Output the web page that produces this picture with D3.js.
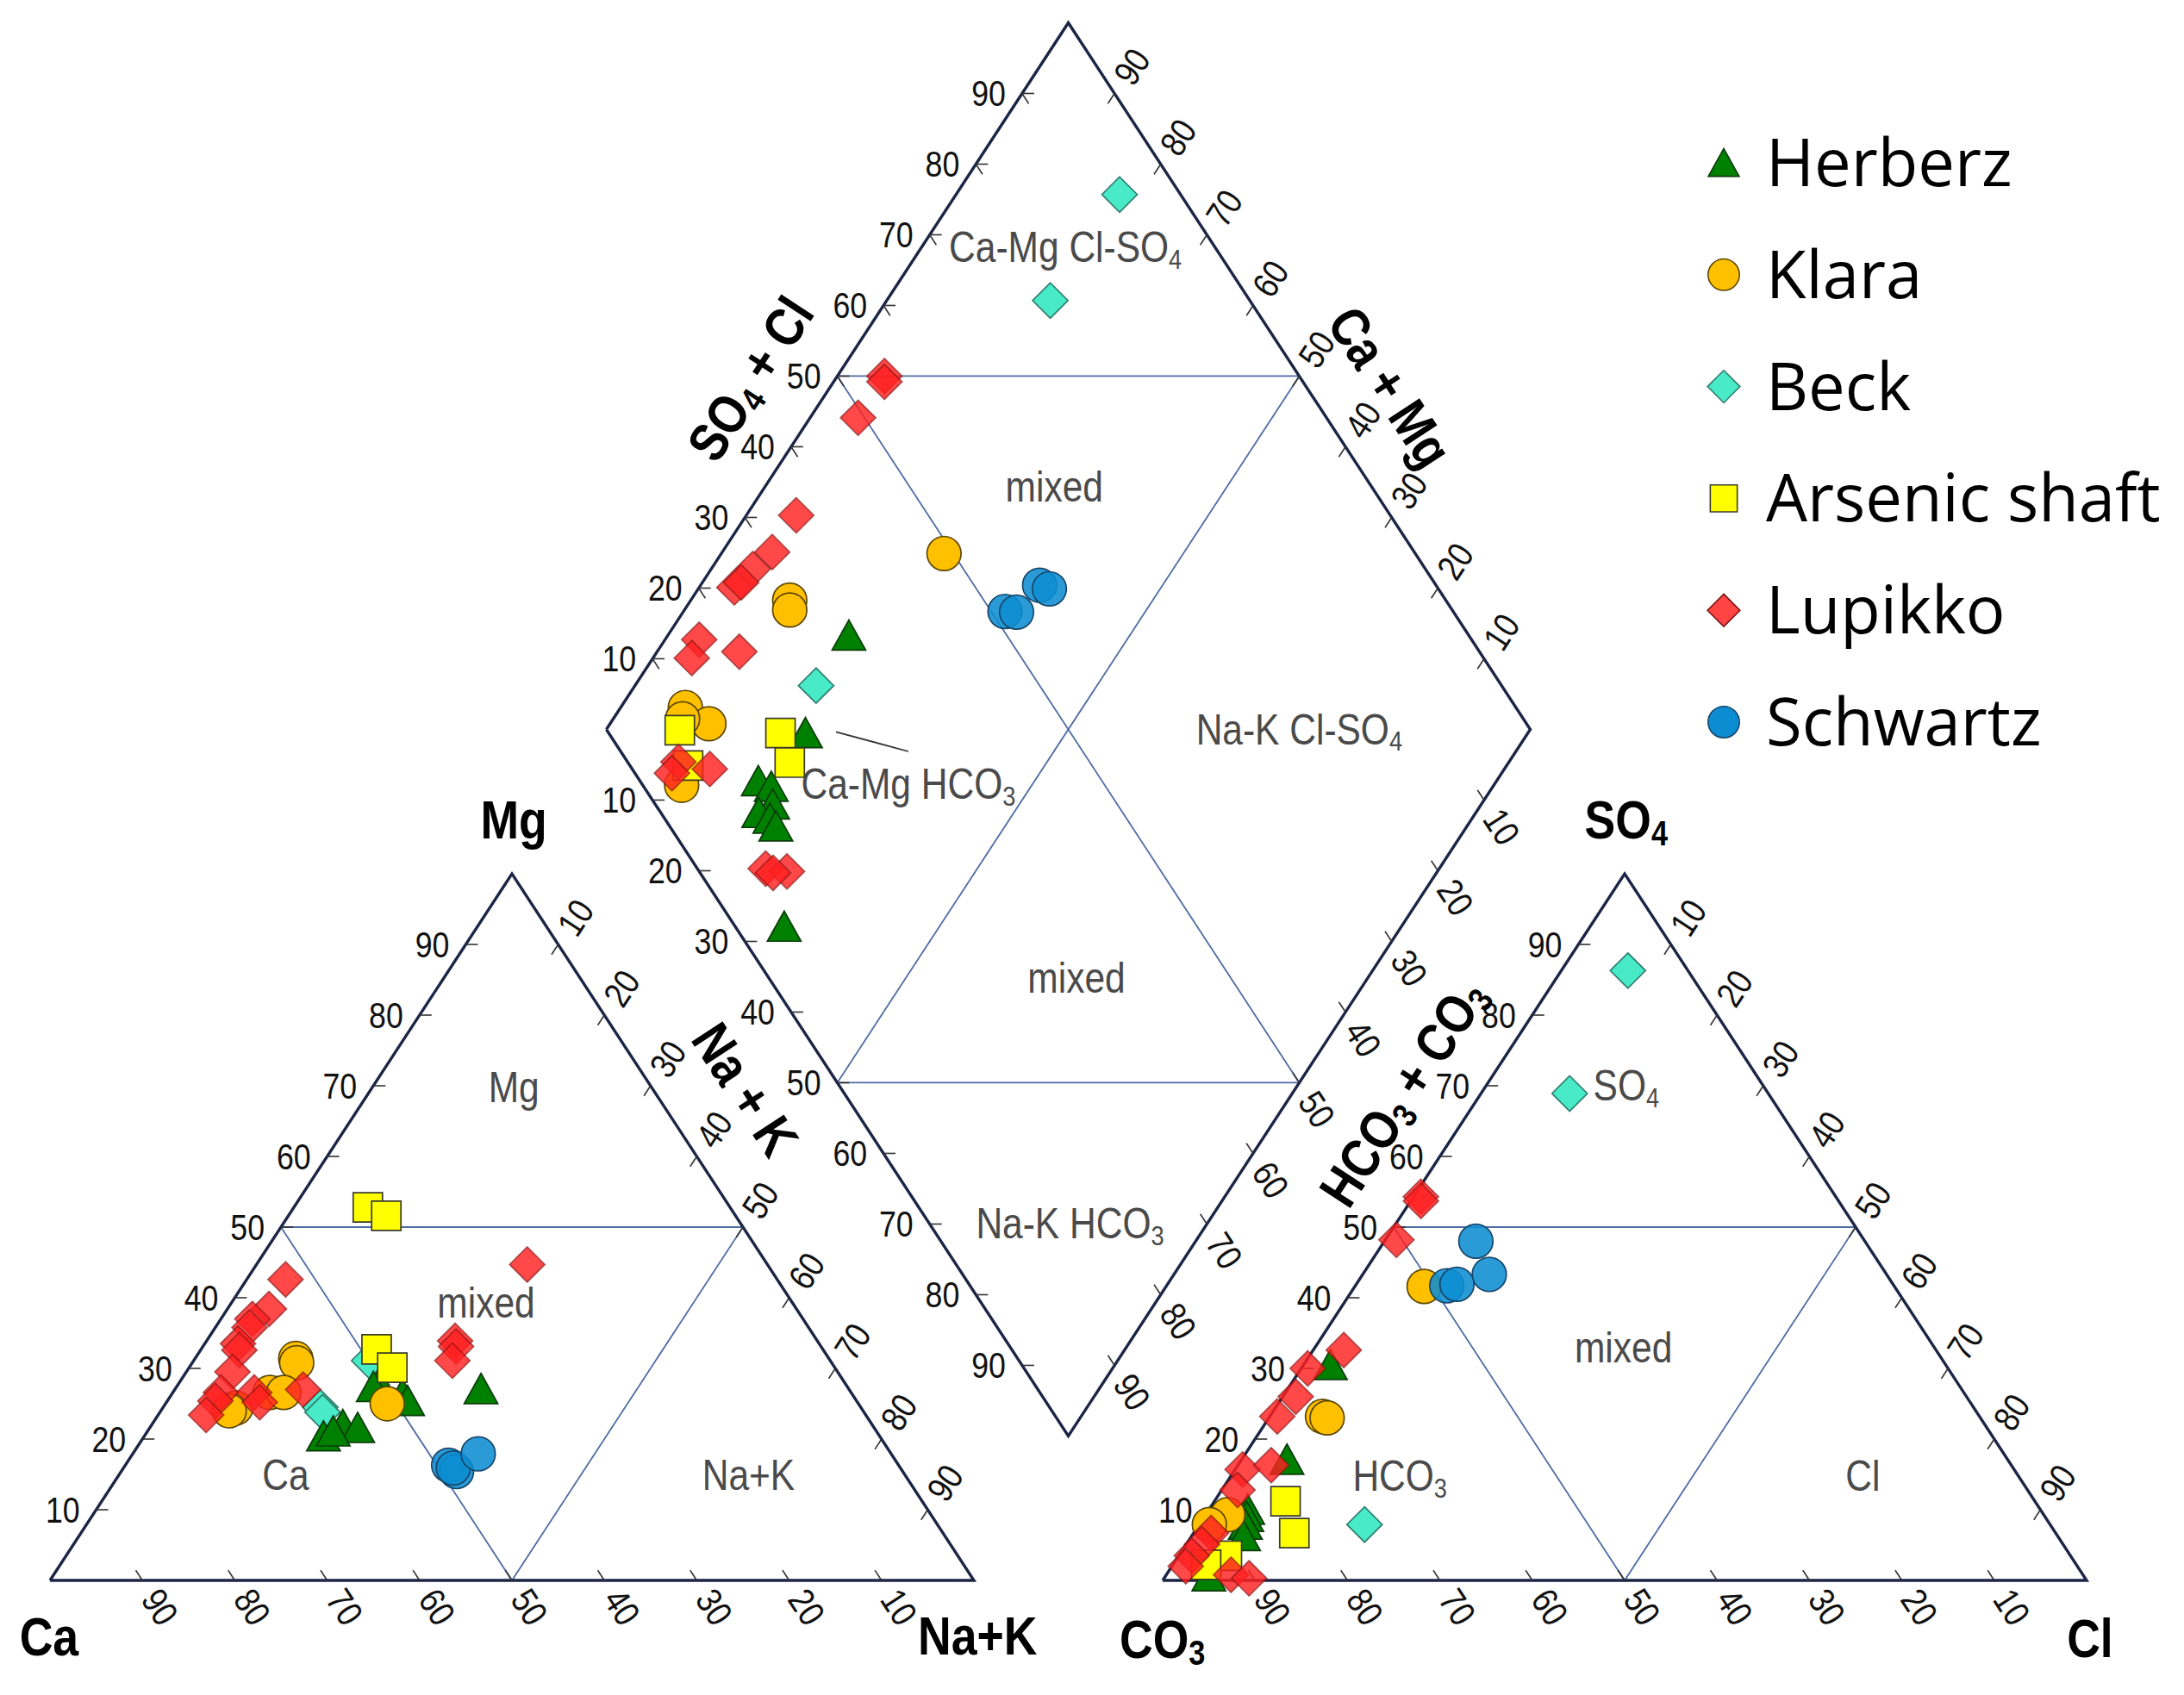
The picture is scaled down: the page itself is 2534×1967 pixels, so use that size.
<!DOCTYPE html>
<html><head><meta charset="utf-8">
<script src="https://cdn.jsdelivr.net/npm/d3@7"></script>
<style>body{margin:0;background:#fff}svg{display:block}</style>
</head><body>
<svg id="c" width="2534" height="1967"></svg>
<script>
// ---------------- data ----------------
const seriesNames  = ["Herberz","Klara","Beck","Arsenic shaft","Lupikko","Schwartz"];
const seriesShapes = ["triangle","circle","diamond","square","diamond","circle"];
const seriesFill   = ["#008000","#ffc000","#48eac8","#ffff00","#ff2020","#0c8dd2"];
const seriesStroke = ["#0b3a0b","#5a4500","#2f7d6e","#3a3a2a","#7a1010","#16456a"];
const seriesFillOpacity = [1,1,1,1,0.82,0.88];
const drawOrder = ["Beck","Herberz","Klara","Arsenic shaft","Lupikko","Schwartz"];
const tickValues = [10,20,30,40,50,60,70,80,90];

// cation triangle: [series, Mg %, Na+K %]
const cations = [
 ["Herberz",20.4,19.4],["Herberz",22.0,20.7],["Herberz",21.6,22.5],["Herberz",21.1,20.1],["Herberz",27.9,21.7],
 ["Herberz",27.4,21.3],["Herberz",26.3,25.0],["Herberz",25.4,26.0],["Herberz",27.1,33.1],
 ["Klara",31.4,10.9],["Klara",30.8,11.3],["Klara",24.4,7.9],["Klara",24.0,7.4],["Klara",26.6,10.5],["Klara",26.6,12.0],["Klara",25.0,24.0],
 ["Beck",24.5,17.0],["Beck",23.8,17.6],["Beck",31.1,19.0],
 ["Arsenic shaft",52.8,8.0],["Arsenic shaft",51.6,10.6],["Arsenic shaft",32.7,19.0],["Arsenic shaft",30.1,22.0],
 ["Lupikko",42.6,4.2],["Lupikko",38.4,4.5],["Lupikko",37.0,3.4],["Lupikko",35.8,3.7],["Lupikko",33.5,3.6],["Lupikko",32.6,4.2],
 ["Lupikko",29.5,5.0],["Lupikko",26.6,5.2],["Lupikko",25.4,5.2],["Lupikko",23.4,5.2],["Lupikko",26.6,8.8],["Lupikko",25.2,10.1],
 ["Lupikko",27.0,13.9],["Lupikko",33.9,26.9],["Lupikko",33.1,27.4],["Lupikko",31.1,28.0],["Lupikko",44.7,29.3],
 ["Schwartz",16.3,35.0],["Schwartz",15.4,36.3],["Schwartz",15.9,35.7],["Schwartz",17.9,37.4]
];
// anion triangle: [series, SO4 %, Cl %]
const anions = [
 ["Herberz",30.5,2.9],["Herberz",17.1,4.9],["Herberz",10.0,4.2],["Herberz",9.0,4.6],["Herberz",7.9,5.0],["Herberz",6.3,5.6],["Herberz",0.6,4.7],
 ["Klara",41.6,7.5],["Klara",23.2,5.7],["Klara",23.0,6.3],["Klara",9.3,2.4],["Klara",7.9,1.1],
 ["Beck",86.3,7.2],["Beck",68.9,9.6],["Beck",7.9,17.9],
 ["Arsenic shaft",11.2,7.7],["Arsenic shaft",6.7,10.9],["Arsenic shaft",3.5,5.2],["Arsenic shaft",2.2,3.6],
 ["Lupikko",54.3,0.8],["Lupikko",53.7,1.1],["Lupikko",48.2,1.2],["Lupikko",32.6,3.3],["Lupikko",30.0,0.7],["Lupikko",26.0,1.4],
 ["Lupikko",23.2,0.8],["Lupikko",15.7,0.8],["Lupikko",16.3,3.6],["Lupikko",12.8,1.7],["Lupikko",6.7,1.9],["Lupikko",5.1,1.7],
 ["Lupikko",3.5,1.4],["Lupikko",2.0,1.5],["Lupikko",0.8,7.0],["Lupikko",0.3,9.2],
 ["Schwartz",48.0,9.9],["Schwartz",43.3,13.7],["Schwartz",41.7,9.9],["Schwartz",41.9,10.9]
];
// diamond: [series, Na+K %, SO4+Cl %]
const diamond = [
 ["Herberz",19.6,32.9],["Herberz",21.8,21.3],["Herberz",20.1,12.8],["Herberz",21.9,13.8],["Herberz",23.3,12.7],
 ["Herberz",22.4,10.6],["Herberz",24.0,11.4],["Herberz",25.2,11.5],["Herberz",33.2,5.3],
 ["Klara",24.1,49.0],["Klara",10.7,29.0],["Klara",11.4,28.3],["Klara",7.0,10.1],["Klara",10.7,11.5],["Klara",12.1,4.2],["Klara",7.5,9.0],
 ["Beck",19.6,25.8],["Beck",17.7,93.4],["Beck",17.7,78.4],
 ["Arsenic shaft",8.0,7.9],["Arsenic shaft",19.1,18.6],["Arsenic shaft",22.2,17.5],["Arsenic shaft",11.4,6.3],
 ["Lupikko",5.1,55.1],["Lupikko",5.5,54.7],["Lupikko",5.2,49.3],["Lupikko",5.4,35.7],["Lupikko",5.4,30.5],["Lupikko",4.5,27.2],
 ["Lupikko",3.8,23.9],["Lupikko",4.2,25.0],["Lupikko",3.7,16.4],["Lupikko",4.2,14.3],["Lupikko",8.9,19.9],["Lupikko",10.1,5.5],
 ["Lupikko",10.2,4.0],["Lupikko",14.0,8.4],["Lupikko",27.1,7.4],["Lupikko",29.6,9.5],["Lupikko",28.2,7.9],
 ["Schwartz",34.8,51.5],["Schwartz",36.1,52.7],["Schwartz",36.7,57.1],["Schwartz",38.0,57.9]
];

// ---------------- geometry ----------------
const svg = d3.select("#c");
const SQ3 = Math.sqrt(3), h = 50*SQ3, GAP = 20.43;
const x = d3.scaleLinear().domain([0,100]).range([58,1130]);
const y = d3.scaleLinear().domain([0,h]).range([1834,1014]);
const P = p => [x(p[0]), y(p[1])];
const lerp = (a,b,t) => [a[0]+(b[0]-a[0])*t, a[1]+(b[1]-a[1])*t];

const caV=[0,0], nakV=[100,0], mgV=[50,h];
const co3V=[100+GAP,0], clV=[200+GAP,0], so4V=[150+GAP,h];
const dB=[100+GAP/2, GAP/2*SQ3], dL=[dB[0]-50,dB[1]+h], dT=[dB[0],dB[1]+2*h], dR=[dB[0]+50,dB[1]+h];

const cationXY = (mg,nak) => [nak+mg/2, mg*h/100];
const anionXY  = (so4,cl) => [100+GAP+cl+so4/2, so4*h/100];
const diamondXY= (a,b) => [dL[0]+0.5*(a+b), dL[1]+(b-a)*h/100];

const OUTLINE="#1c2546", INNER="#4f6ca5";
const FONT="'Liberation Sans', Arial, sans-serif";
const NARROW=0.85;

const line = d3.line().x(d=>x(d[0])).y(d=>y(d[1]));
const gFrame = svg.append("g");
const mid=(a,b)=>lerp(a,b,0.5);
[[caV,nakV,mgV],[co3V,clV,so4V]].forEach(([A,B,C])=>{
  const m1=mid(A,C), m2=mid(B,C), m3=mid(A,B);
  gFrame.append("path").attr("d",line([m1,m2,m3,m1])).attr("fill","none").attr("stroke",INNER).attr("stroke-width",1.8);
});
const dLT=mid(dL,dT), dRT=mid(dR,dT), dLB=mid(dL,dB), dRB=mid(dR,dB);
[[dLT,dRT],[dLB,dRB],[dLT,dRB],[dRT,dLB]].forEach(s=>{
  gFrame.append("path").attr("d",line(s)).attr("fill","none").attr("stroke",INNER).attr("stroke-width",1.8);
});
[[caV,nakV,mgV,caV],[co3V,clV,so4V,co3V],[dL,dT,dR,dB,dL]].forEach(poly=>{
  gFrame.append("path").attr("d",line(poly)).attr("fill","none").attr("stroke",OUTLINE).attr("stroke-width",3.4).attr("stroke-linejoin","miter");
});

// ---------------- ticks and tick labels ----------------
function pxDir(d){const dx=x(d[0])-x(0), dy=y(d[1])-y(0); const L=Math.hypot(dx,dy); return [dx/L,dy/L];}
const axes = [
 {from:caV, to:mgV, ticks:[[1,0]], mode:"h"},
 {from:nakV,to:caV, ticks:[[-50,h]], mode:"r", out:[50,-h]},
 {from:mgV, to:nakV,ticks:[[-50,-h]], mode:"r", out:[50,h]},
 {from:co3V,to:so4V,ticks:[[1,0]], mode:"h"},
 {from:clV, to:co3V,ticks:[[-50,h]], mode:"r", out:[50,-h]},
 {from:so4V,to:clV, ticks:[[-50,-h]], mode:"r", out:[50,h]},
 {from:dL, to:dT, ticks:[[1,0],[50,-h]], mode:"h"},
 {from:dL, to:dB, ticks:[[1,0]], mode:"h"},
 {from:dR, to:dT, ticks:[[-50,-h]], mode:"r", out:[50,h]},
 {from:dR, to:dB, ticks:[[-50,h]], mode:"r", out:[50,-h]}
];
const gTicks = svg.append("g");
axes.forEach(ax=>{
  tickValues.forEach(v=>{
    const p=P(lerp(ax.from,ax.to,v/100));
    ax.ticks.forEach(t=>{
      const d=pxDir(t);
      gTicks.append("line").attr("x1",p[0]).attr("y1",p[1]).attr("x2",p[0]+14*d[0]).attr("y2",p[1]+14*d[1])
        .attr("stroke","#333").attr("stroke-width",1.6);
    });
    if(ax.mode==="h"){
      gTicks.append("text").attr("transform",`translate(${p[0]-19},${p[1]}) scale(${NARROW},1)`)
        .attr("text-anchor","end").attr("dominant-baseline","central")
        .attr("font-family",FONT).attr("font-size",42).attr("fill","#111").text(v);
    } else {
      const d=pxDir(ax.out); const ang=Math.atan2(d[1],d[0])*180/Math.PI;
      gTicks.append("text").attr("transform",`translate(${p[0]+37*d[0]},${p[1]+37*d[1]}) rotate(${ang}) scale(${NARROW},1)`)
        .attr("text-anchor","middle").attr("dominant-baseline","central")
        .attr("font-family",FONT).attr("font-size",42).attr("fill","#111").text(v);
    }
  });
});

// ---------------- text helper ----------------
function rich(g, parts, cx, cy, size, opt){
  const t=g.append("text").attr("transform",`translate(${cx},${cy}) rotate(${opt.rot||0}) scale(${NARROW},1)`)
    .attr("text-anchor","middle").attr("dominant-baseline","central")
    .attr("font-family",FONT).attr("font-size",size).attr("fill",opt.fill||"#000")
    .attr("font-weight",opt.bold?"bold":"normal");
  let shifted=false;
  parts.forEach(pt=>{
    const isSub = Array.isArray(pt);
    const s = isSub?pt[0]:pt;
    const ts=t.append("tspan").text(s);
    if(isSub){ts.attr("font-size",size*0.64).attr("dy",size*0.26); shifted=true;}
    else if(shifted){ts.attr("dy",-size*0.26); shifted=false;}
  });
  return t;
}
const U=(u,v)=>[x(u),y(v)];

// region labels
const gReg=svg.append("g");
const regionLabels=[
 [["Mg"],50.2,60.4],[["mixed"],47.2,34.0],[["Ca"],25.5,12.9],[["Na+K"],75.6,12.9],
 [["Ca-Mg Cl-SO",["4"]],109.9,163.4],[["mixed"],108.7,134.1],[["Na-K Cl-SO",["4"]],135.2,104.3],
 [["Ca-Mg HCO",["3"]],92.9,97.6],[["mixed"],111.1,73.9],[["Na-K HCO",["3"]],110.4,43.7],
 [["SO",["4"]],170.6,60.6],[["mixed"],170.3,28.5],[["HCO",["3"]],146.1,12.8],[["Cl"],196.2,12.8]
];
regionLabels.forEach(([parts,u,v])=>{const p=U(u,v); rich(gReg,parts,p[0],p[1],50,{fill:"#4a4a4a"});});
gReg.append("path").attr("d",line([[85.07,104.0],[92.9,101.6]])).attr("stroke","#333").attr("stroke-width",1.8);

// axis titles
const titles=[
 [["Mg"],50.2,93.3,0],[["Ca"],-0.1,-6.8,0],[["Na+K"],100.4,-6.7,0],
 [["CO",["3"]],120.4,-7.1,0],[["Cl"],220.8,-7.0,0],[["SO",["4"]],170.6,93.3,0],
 [["SO",["4"]," + Cl"],75.75,147.3,-56.8],[["Ca + Mg"],145.1,146.3,56.8],
 [["Na + K"],75.3,60.2,56.8],[["HCO",["3"]," + CO",["3"]],146.4,59.8,-56.8]
];
const gTit=svg.append("g");
titles.forEach(([parts,u,v,rot])=>{const p=U(u,v); rich(gTit,parts,p[0],p[1],63,{bold:true,rot:rot});});

// ---------------- markers ----------------
function shapePath(shape){
  switch(shape){
    case "triangle": return "M0,-18L19.5,17L-19.5,17Z";
    case "diamond": return "M0,-20.5L20.5,0L0,20.5L-20.5,0Z";
    case "square": return "M-17,-17H17V17H-17Z";
    default: return d3.arc()({innerRadius:0,outerRadius:19.8,startAngle:0,endAngle:2*Math.PI});
  }
}
function styleMarker(sel,i){
  sel.attr("d",shapePath(seriesShapes[i])).attr("fill",seriesFill[i]).attr("fill-opacity",seriesFillOpacity[i])
     .attr("stroke",seriesStroke[i]).attr("stroke-width",1.7).attr("stroke-opacity",i===4?0.6:1);
}
const gPts=svg.append("g");
const panels=[[cations,cationXY],[anions,anionXY],[diamond,diamondXY]];
drawOrder.forEach(name=>{
  const i=seriesNames.indexOf(name);
  panels.forEach(([rows,fn])=>{
    rows.filter(r=>r[0]===name).forEach(r=>{
      const p=P(fn(r[1],r[2]));
      gPts.append("path").attr("transform",`translate(${p[0]},${p[1]})`).call(styleMarker,i);
    });
  });
});

// ---------------- legend ----------------
const gLeg=svg.append("g");
const legendY=d3.scalePoint().domain(seriesNames).range([189,838]);
seriesNames.forEach((n,i)=>{
  const yy=legendY(n);
  gLeg.append("path").attr("transform",`translate(2000,${yy}) scale(0.92)`).call(styleMarker,i).attr("fill-opacity",1).attr("stroke-opacity",1)
    .attr("fill", i===4?"#ff4444":seriesFill[i]);
  gLeg.append("text").attr("x",2049).attr("y",yy+27).attr("font-family","'Open Sans', sans-serif")
    .attr("font-size",76).attr("fill","#000").text(n);
});
</script>
</body></html>
